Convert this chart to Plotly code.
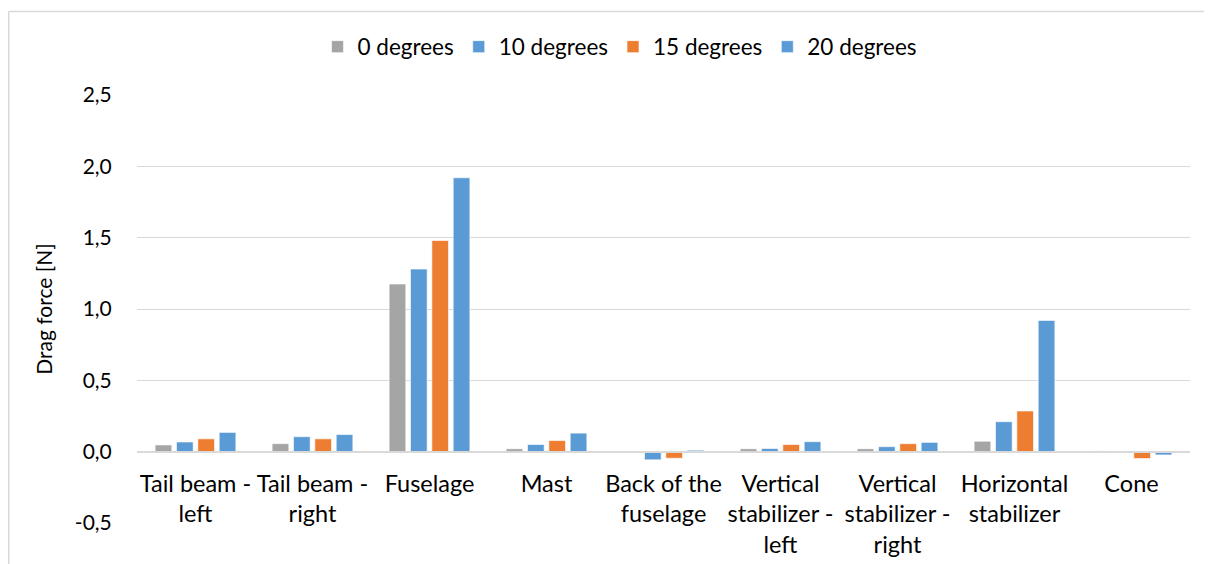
import plotly.graph_objects as go

categories = ["Tail beam -<br>left", "Tail beam -<br>right", "Fuselage", "Mast",
              "Back of the<br>fuselage", "Vertical<br>stabilizer -<br>left",
              "Vertical<br>stabilizer -<br>right", "Horizontal<br>stabilizer", "Cone"]
series_names = ["0 degrees", "10 degrees", "15 degrees", "20 degrees"]
deg0 = [0.047, 0.056, 1.175, 0.020, -0.005, 0.020, 0.020, 0.073, 0.005]
deg10 = [0.068, 0.105, 1.28, 0.050, -0.057, 0.022, 0.035, 0.21, 0.0]
deg15 = [0.090, 0.090, 1.48, 0.078, -0.046, 0.050, 0.056, 0.285, -0.048]
deg20 = [0.135, 0.120, 1.92, 0.130, 0.010, 0.070, 0.065, 0.92, -0.023]
colors = ["#A5A5A5", "#5B9BD5", "#ED7D31", "#5B9BD5"]
y_ticks = [-0.5, 0.0, 0.5, 1.0, 1.5, 2.0, 2.5]
y_tick_labels = ["-0,5", "0,0", "0,5", "1,0", "1,5", "2,0", "2,5"]

# page body has an 8px margin, so the figure is 8px smaller than the window
W, H = 1204, 556
ml, mr, mt, mb = 129, 22, 87, 41
ymin, ymax = -0.5, 2.5
pw = W - ml - mr
ph = H - mt - mb

fig = go.Figure()
for name, vals, c in zip(series_names, [deg0, deg10, deg15, deg20], colors):
    fig.add_trace(go.Bar(name=name, x=categories, y=vals, marker_color=c,
                         marker_line=dict(color="rgba(255,255,255,0.6)", width=1)))

font = "Lato"
# chart border (left and top edges)
bx = (0.75 - ml) / pw
by = (H - 3.5 - mb) / ph
fig.add_shape(type="line", xref="paper", yref="paper",
              x0=bx, x1=bx, y0=-(mb + 5) / ph, y1=by,
              line=dict(color="#D9D9D9", width=1.5))
fig.add_shape(type="line", xref="paper", yref="paper",
              x0=bx, x1=(W - ml) / pw + 0.01, y0=by, y1=by,
              line=dict(color="#D9D9D9", width=1.5))

fig.update_layout(
    width=W, height=H,
    margin=dict(l=ml, r=mr, t=mt, b=mb),
    paper_bgcolor="white", plot_bgcolor="white",
    barmode="group", bargap=0.27, bargroupgap=0.22,
    font=dict(family=font, size=21, color="#000000"),
    legend=dict(orientation="h", x=(612 - ml) / pw, xanchor="center",
                y=1.0 + 48 / ph, yanchor="middle", font=dict(size=22.5),
                traceorder="normal", itemwidth=30),
    showlegend=True,
)
fig.update_yaxes(range=[ymin, ymax], tickvals=y_ticks, ticktext=y_tick_labels,
                 showgrid=True, gridcolor="#D9D9D9", gridwidth=1, zeroline=False,
                 ticks="outside", ticklen=20, tickcolor="rgba(0,0,0,0)",
                 title=dict(text="Drag force [N]", font=dict(size=21), standoff=16),
                 tickfont=dict(size=21), automargin=False)
fig.update_xaxes(anchor="free", position=(0 - ymin) / (ymax - ymin),
                 showline=True, linecolor="#D9D9D9", linewidth=1.5,
                 ticks="outside", ticklen=11, tickcolor="rgba(0,0,0,0)",
                 tickfont=dict(size=23.5), tickangle=0, automargin=False)

fig.write_html("out.html")
